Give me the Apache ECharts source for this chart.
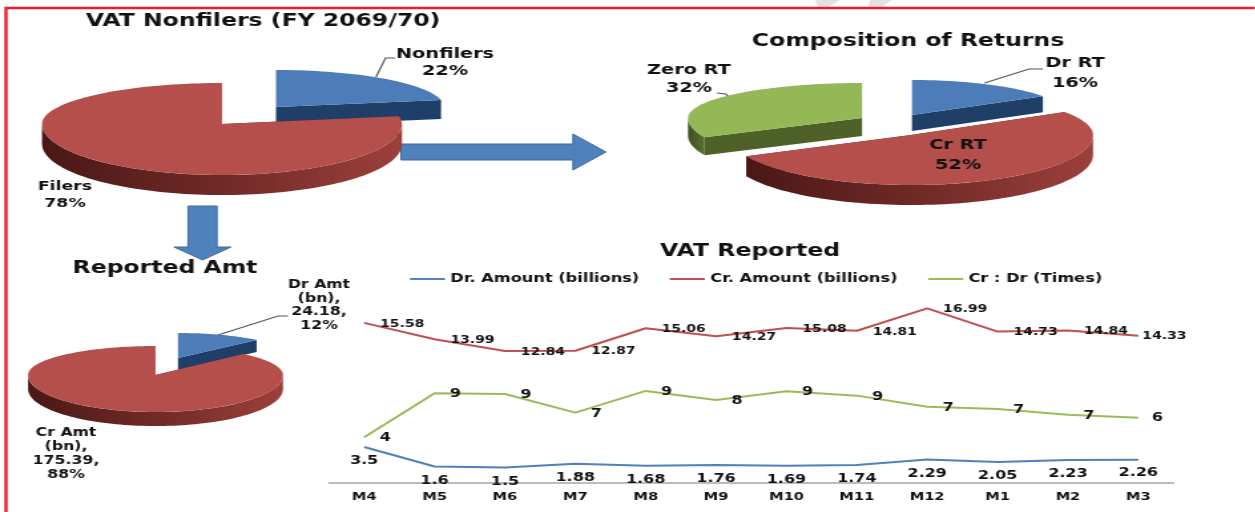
<!DOCTYPE html>
<html><head><meta charset="utf-8">
<script src="https://cdn.jsdelivr.net/npm/echarts@6/dist/echarts.min.js"></script>
<style>html,body{margin:0;padding:0;background:#fff;overflow:hidden}#chart{height:512px;transform-origin:0 0;filter:blur(0.3px)}</style>
</head><body><div id="chart"></div>
<script>
// ---- data ----
const months = ['M4','M5','M6','M7','M8','M9','M10','M11','M12','M1','M2','M3'];
const drAmount = [3.5,1.6,1.5,1.88,1.68,1.76,1.69,1.74,2.29,2.05,2.23,2.26];
const crAmount = [15.58,13.99,12.84,12.87,15.06,14.27,15.08,14.81,16.99,14.73,14.84,14.33];
const crDrTimes = [4.45,8.74,8.66,6.85,8.96,8.07,8.92,8.5,7.42,7.19,6.65,6.34];
const filerNames = ['Nonfilers','Filers'];
const filerValues = [22,78];
const returnNames = ['Dr RT','Cr RT','Zero RT'];
const returnValues = [16,52,32];
const amountNames = ['Dr Amt','Cr Amt'];
const amountValues = [24.18,175.39];

// ---- look ----
// The reference's whole picture is stretched sideways, type included, so the chart is
// drawn narrower and widened by the same factor. SX converts page x to chart x.
const SX=1.33;
const X=x=>x/SX;
const mapPts=pts=>pts.map(p=>[X(p[0]),p[1]]);
const BLUE='#4F81BD', RED='#C0504D', GREEN='#9BBB59', INK='#111';
const FONT='"DejaVu Sans"';
const tones = {
  blue:{top:'#4C7DB8',cut:'#1F3F68',wall:['#2f5a8c','#1a3558']},
  red:{top:'#B54F4B',cut:'#6e2826',wall:['#9c403c','#702a27','#4a1816']},
  green:{top:'#95B856',cut:'#4E6128',wall:['#5a7030','#3f4f20']}
};
// each slice's place on the page: ellipse centre, radii (back/front differ for perspective), thickness
const filerGeom = [
  {tone:'blue',cx:276,cy:107,rx:168,ryB:37,ryF:37,d:19,z:1,fs:14.5,label:[445,54,71]},
  {tone:'red',cx:222,cy:124,rx:180,ryB:41,ryF:51,d:20,z:5,fs:13,label:[65,187,204]}
];
const returnGeom = [
  {tone:'blue',cx:912,cy:115,rx:155,ryB:35,ryF:35,d:16,z:1,fs:14.5,label:[1075,63,83]},
  {tone:'red',cx:911,cy:135,rx:182,ryB:43,ryF:50,d:20,z:5,fs:14.5,label:[958,145,165]},
  {tone:'green',cx:862,cy:118,rx:174,ryB:35,ryF:45,d:18,z:3,fs:14.5,label:[689,70,88]}
];
const amountGeom = [
  {tone:'blue',cx:178,cy:358,rx:114,ryB:25,ryF:25,d:12,z:1,fs:11.8,labelLines:[319,285,13.5]},
  {tone:'red',cx:155.5,cy:375,rx:127.5,ryB:29,ryF:37,d:14,z:5,fs:11.8,labelLines:[66,433,14]}
];

function ellipsePt(g,deg,drop){
  const a=deg*Math.PI/180, c=Math.cos(a), s=Math.sin(a);
  return [g.cx+g.rx*s, g.cy-(c>0?g.ryB:g.ryF)*c+(drop||0)];
}
function arcPts(g,from,to,drop){
  const out=[], n=Math.max(2,Math.ceil(Math.abs(to-from)/2));
  for(let i=0;i<=n;i++) out.push(ellipsePt(g,from+(to-from)*i/n,drop));
  return out;
}
function pieSeries(name,names,values,geom,labelFn){
  const total=values.reduce((a,b)=>a+b,0);
  return {
    type:'custom',name,coordinateSystem:'none',silent:true,clip:false,
    data:values.map((v,i)=>({name:names[i],value:v})),
    renderItem(params){
      const i=params.dataIndex,g=geom[i],t=tones[g.tone];
      let start=0;for(let k=0;k<i;k++)start+=values[k]/total*360;
      const end=start+values[i]/total*360;
      const ch=[];
      const fa=Math.max(start,90),fb=Math.min(end,270);
      [start,end].forEach(ang=>{
        const p=ellipsePt(g,ang);
        ch.push({type:'polygon',z2:g.z,shape:{points:mapPts([[g.cx,g.cy],p,[p[0],p[1]+g.d],[g.cx,g.cy+g.d]])},style:{fill:t.cut}});
      });
      if(fb>fa){
        const top=arcPts(g,fa,fb,0),bot=arcPts(g,fb,fa,g.d);
        ch.push({type:'polygon',z2:g.z,shape:{points:mapPts(top.concat(bot))},
          style:{fill:new echarts.graphic.LinearGradient(1,0,0,0,t.wall.map((c,n)=>({offset:n/(t.wall.length-1),color:c})))}});
      }
      ch.push({type:'polygon',z2:g.z+1,shape:{points:mapPts([[g.cx,g.cy]].concat(arcPts(g,start,end,0)))},style:{fill:t.top}});
      labelFn(names[i],values[i],Math.round(values[i]/total*100),g).forEach(l=>{
        ch.push({type:'text',z2:50,style:{text:l[0],x:X(l[1]),y:l[2],align:'center',verticalAlign:'middle',fill:INK,font:'bold '+g.fs+'px '+FONT}});
      });
      return {type:'group',children:ch};
    }
  };
}
const twoLine=(n,v,p,g)=>[[n,g.label[0],g.label[1]],[p+'%',g.label[0],g.label[2]]];
const fourLine=(n,v,p,g)=>{
  const [x,y,h]=g.labelLines;
  return [n,'(bn),',v+',',p+'%'].map((s,k)=>[s,x,y+k*h]);
};
function lineSeries(name,vals,color,offset,lastOffset,size,fmt){
  const off=o=>[X(o[0]),o[1]];
  return {
    type:'line',name,data:vals.map((v,i)=>({value:v,label:i===vals.length-1?{offset:off(lastOffset)}:undefined})),
    symbol:'circle',symbolSize:0.1,showSymbol:true,showAllSymbol:true,lineStyle:{color,width:2},itemStyle:{color},animation:false,
    label:{show:true,position:'inside',offset:off(offset),color:INK,fontFamily:FONT,fontWeight:'bold',fontSize:size,
      formatter:p=>fmt?fmt(p.value):String(p.value)}
  };
}
const titleText=(text,x,y)=>({type:'text',style:{text,x:X(x),y,align:'center',verticalAlign:'middle',fill:INK,font:'bold 17.7px '+FONT}});
const leader=pts=>({type:'polyline',shape:{points:mapPts(pts)},style:{stroke:'#555',lineWidth:1.2,fill:null}});
const poly=(pts,fill,stroke)=>({type:'polygon',shape:{points:mapPts(pts)},style:{fill,stroke:stroke||null,lineWidth:1}});

const option={
  backgroundColor:'#fff',animation:false,
  grid:{left:X(329),right:X(82),top:298,bottom:29},
  xAxis:{type:'category',data:months,boundaryGap:true,axisTick:{show:false},
    axisLine:{lineStyle:{color:'#a6a6a6',width:1.5}},
    axisLabel:{color:INK,fontFamily:FONT,fontWeight:'bold',fontSize:11,margin:9,interval:0}},
  yAxis:{type:'value',min:0,max:18,show:false,splitLine:{show:false}},
  legend:{left:X(410),top:273,padding:0,itemWidth:X(35),itemHeight:2,itemGap:23,icon:'rect',
    data:['Dr. Amount (billions)','Cr. Amount (billions)','Cr : Dr (Times)'],
    textStyle:{color:INK,fontFamily:FONT,fontWeight:'bold',fontSize:12.2,padding:[0,0,0,-1]}},
  series:[
    lineSeries('Dr. Amount (billions)',drAmount,BLUE,[0,14],[0,13],12,v=>String(v)),
    lineSeries('Cr. Amount (billions)',crAmount,RED,[38,1],[26,1],10.5),
    lineSeries('Cr : Dr (Times)',crDrTimes,GREEN,[21,1],[19,0],12,v=>String(Math.round(v))),
    pieSeries('VAT Nonfilers',filerNames,filerValues,filerGeom,twoLine),
    pieSeries('Composition of Returns',returnNames,returnValues,returnGeom,twoLine),
    pieSeries('Reported Amt',amountNames,amountValues,amountGeom,fourLine)
  ],
  graphic:{elements:[
    poly([[815,0],[840,0],[828,7],[818,7]],'#e2e2e2'),
    poly([[870,0],[892,0],[882,7],[868,7]],'#e2e2e2'),
    {type:'polyline',shape:{points:mapPts([[1255,8],[6,8],[6,512]])},style:{stroke:'#EE1C2C',lineWidth:2.4,fill:null}},
    titleText('VAT Nonfilers (FY 2069/70)',263,21),
    titleText('Composition of Returns',908,41),
    titleText('VAT Reported',750,251),
    titleText('Reported Amt',165,268),
    leader([[376,77],[385.5,58],[395,58]]),
    leader([[984.5,83],[1029,69],[1043,69]]),
    leader([[717,93],[726,94],[729,98]]),
    leader([[218,335],[278,316],[288,316]]),
    poly([[401,144],[573,144],[573,134],[606,152],[573,170],[573,160],[401,160]],'#4F81BD','#3b6a9f'),
    poly([[188,206],[217,206],[217,247],[231,247],[202.5,260],[174,247],[188,247]],'#4F81BD','#3b6a9f')
  ]}
};
const box=document.getElementById('chart');
box.style.width=(1255/SX)+'px';
box.style.transform='scaleX('+SX+')';
const chart=echarts.init(box);
chart.setOption(option);
</script></body></html>
